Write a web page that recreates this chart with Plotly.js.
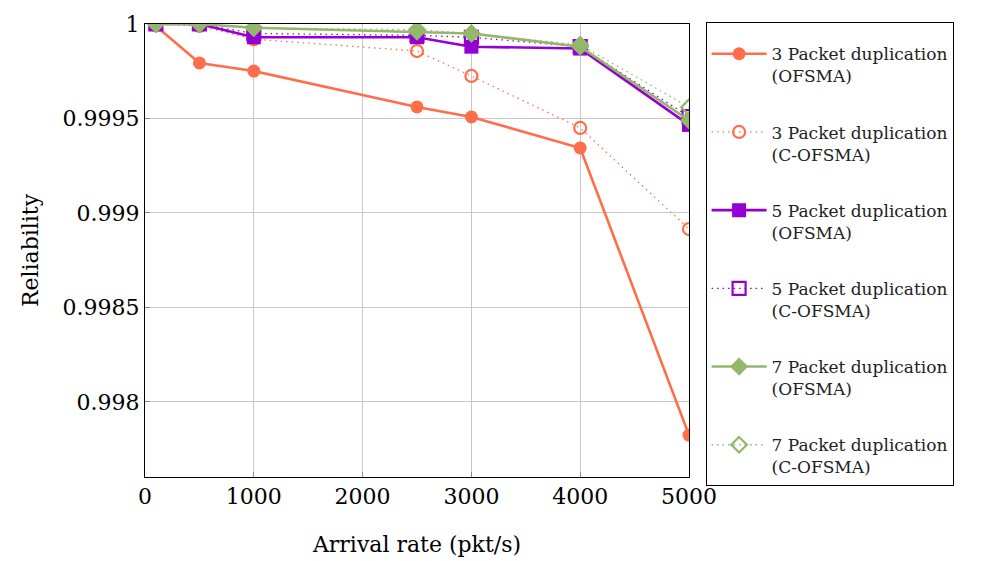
<!DOCTYPE html>
<html>
<head>
<meta charset="utf-8">
<script src="https://cdn.plot.ly/plotly-3.0.1.min.js"></script>
<style>html,body{margin:0;padding:0;background:#fff;}#chart{width:1001px;height:561px;}</style>
</head>
<body>
<div id="chart"></div>
<script>
const arrivalRate = [100, 500, 1000, 2500, 3000, 4000, 5000];
const dup3_OFSMA  = [0.99999, 0.999794, 0.999751, 0.999561, 0.999508, 0.999344, 0.997825];
const dup3_COFSMA = [1.0, 0.99999, 0.99992, 0.999857, 0.999725, 0.99945, 0.998915];
const dup5_OFSMA  = [1.0, 1.0, 0.99993, 0.99993, 0.99988, 0.99987, 0.999466];
const dup5_COFSMA = [1.0, 1.0, 0.99995, 0.99994, 0.99993, 0.99988, 0.99951];
const dup7_OFSMA  = [1.0, 1.0, 0.99998, 0.99996, 0.99995, 0.99988, 0.99949];
const dup7_COFSMA = [1.0, 1.0, 0.99998, 0.99997, 0.99995, 0.99989, 0.99956];
const seriesNames = [
  "3 Packet duplication<br>(OFSMA)",
  "3 Packet duplication<br>(C-OFSMA)",
  "5 Packet duplication<br>(OFSMA)",
  "5 Packet duplication<br>(C-OFSMA)",
  "7 Packet duplication<br>(OFSMA)",
  "7 Packet duplication<br>(C-OFSMA)"
];
const xTickVals = [0, 1000, 2000, 3000, 4000, 5000];
const yTickVals = [0.998, 0.9985, 0.999, 0.9995, 1];
const yTickText = ["0.998", "0.9985", "0.999", "0.9995", "1"];

const ORANGE = "#ff6e4a", PURPLE = "#9400d3", GREEN = "#93b86a";
const serif = "DejaVu Serif, Liberation Serif, serif";

function tr(y, name, color, solid, symbol, size, g) {
  return {
    x: arrivalRate, y: y, name: name, type: "scatter", mode: "lines+markers",
    legendgroup: g,
    line: {color: color, width: solid ? 2.6 : 1.3, dash: solid ? "solid" : "1.5px,4px"},
    marker: solid
      ? {color: color, symbol: symbol, size: size, line: {width: 0}}
      : {color: color, symbol: symbol, size: size, line: {color: color, width: 2.2}}
  };
}

const data = [
  tr(dup3_OFSMA, seriesNames[0], ORANGE, true, "circle", 13, "a"),
  tr(dup3_COFSMA, seriesNames[1], ORANGE, false, "circle-open", 12, "b"),
  tr(dup5_OFSMA, seriesNames[2], PURPLE, true, "square", 14, "c"),
  tr(dup5_COFSMA, seriesNames[3], PURPLE, false, "square-open", 13, "d"),
  tr(dup7_OFSMA, seriesNames[4], GREEN, true, "diamond", 14, "e"),
  tr(dup7_COFSMA, seriesNames[5], GREEN, false, "diamond-open", 12, "f")
];

const layout = {
  width: 1001, height: 561,
  margin: {l: 145, r: 312, t: 24, b: 84},
  paper_bgcolor: "#fff", plot_bgcolor: "#fff",
  font: {family: serif, color: "#000"},
  showlegend: true,
  legend: {
    x: 1.0305, y: 1.004, xanchor: "left", yanchor: "top",
    bordercolor: "#000", borderwidth: 1, bgcolor: "#fff",
    font: {family: serif, size: 17, color: "#222"},
    title: {text: " ", font: {size: 10}},
    tracegroupgap: 31, itemwidth: 55, valign: "top", maxheight: 540
  },
  xaxis: {
    range: [0, 5000], tickvals: xTickVals, ticktext: xTickVals.map(String),
    showgrid: true, gridcolor: "#c8c8c8", gridwidth: 1,
    showline: true, linecolor: "#000", linewidth: 1, mirror: true,
    ticks: "inside", ticklen: 5, tickcolor: "#888",
    zeroline: false,
    tickfont: {family: serif, size: 22, color: "#000"},
    title: {text: "Arrival rate (pkt/s)", font: {family: serif, size: 22, color: "#000"}, standoff: 28}
  },
  yaxis: {
    range: [0.997603, 1.0], tickvals: yTickVals, ticktext: yTickText,
    showgrid: true, gridcolor: "#c8c8c8", gridwidth: 1,
    showline: true, linecolor: "#000", linewidth: 1, mirror: true,
    ticks: "inside", ticklen: 5, tickcolor: "#888",
    zeroline: false,
    tickfont: {family: serif, size: 22, color: "#000"},
    title: {text: "Reliability", font: {family: serif, size: 22, color: "#000"}, standoff: 17}
  }
};

Plotly.newPlot("chart", data, layout, {displayModeBar: false, staticPlot: true});
</script>
</body>
</html>
